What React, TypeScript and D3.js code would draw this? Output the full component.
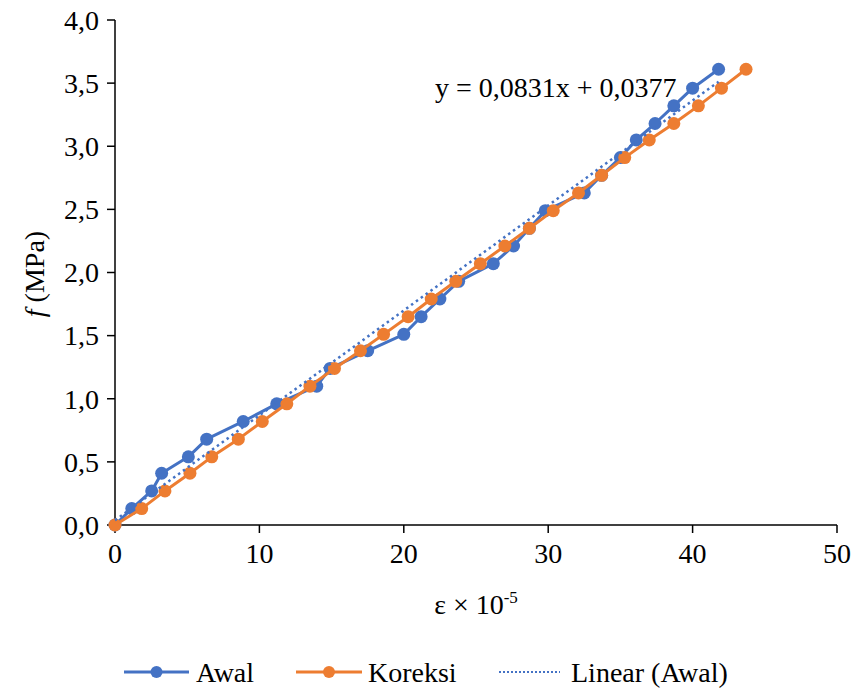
import React from 'react';
import * as d3 from 'd3';

// data (strain x 1e-5, stress MPa)
const awalX = [0, 1.16, 2.54, 3.23, 5.08, 6.35, 8.88, 11.2, 13.97, 14.9, 17.5, 20.0, 21.2, 22.5, 23.8, 26.2, 27.6, 28.7, 29.8, 32.5, 33.7, 35.0, 36.1, 37.4, 38.7, 40.0, 41.8];
const awalY = [0, 0.13, 0.27, 0.41, 0.54, 0.68, 0.82, 0.96, 1.1, 1.24, 1.38, 1.51, 1.65, 1.79, 1.93, 2.07, 2.21, 2.35, 2.49, 2.63, 2.77, 2.91, 3.05, 3.18, 3.32, 3.46, 3.61];
const koreksiX = [0, 1.85, 3.46, 5.19, 6.7, 8.54, 10.2, 11.9, 13.5, 15.2, 17.0, 18.6, 20.3, 21.9, 23.6, 25.3, 27.0, 28.7, 30.35, 32.1, 33.7, 35.3, 37.0, 38.7, 40.4, 42.0, 43.7];
const koreksiY = awalY;

const trendSlope = 0.0831;
const trendIntercept = 0.0377;
const trendRange = [0, 41.8];

const xTicks = [0, 10, 20, 30, 40, 50];
const yTicks = [0, 0.5, 1, 1.5, 2, 2.5, 3, 3.5, 4];

const BLUE = '#4472C4';
const ORANGE = '#ED7D31';
const FONT = "'Times New Roman', 'Liberation Serif', Tinos, serif";

const W = 856;
const H = 693;

const App = () => {
    const x = d3.scaleLinear().domain([0, 50]).range([115, 837]);
    const y = d3.scaleLinear().domain([0, 4]).range([525, 20]);

    const line = d3.line<[number, number]>()
        .x(d => x(d[0]))
        .y(d => y(d[1]));

    const awal: [number, number][] = awalX.map((v, i) => [v, awalY[i]]);
    const koreksi: [number, number][] = koreksiX.map((v, i) => [v, koreksiY[i]]);
    const trend: [number, number][] = trendRange.map(v => [v, trendSlope * v + trendIntercept]);

    const fmt = (v: number) => v.toFixed(1).replace('.', ',');

    const legend = [
        { label: 'Awal', color: BLUE, x0: 124, x1: 189, tx: 196, marker: true, dotted: false },
        { label: 'Koreksi', color: ORANGE, x0: 296, x1: 362, tx: 368, marker: true, dotted: false },
        { label: 'Linear (Awal)', color: BLUE, x0: 499, x1: 560, tx: 571, marker: false, dotted: true },
    ];

    const fs = 28;

    return (
        <div style={{ position: 'absolute', left: 0, top: 0 }}>
            <svg width={W} height={H} style={{ display: 'block', background: '#fff', fontFamily: FONT }}>
                {/* y ticks and labels */}
                {yTicks.map(t => (
                    <g key={'y' + t}>
                        <line x1={107} x2={115} y1={y(t)} y2={y(t)} stroke="#000" strokeWidth={1.5} />
                        <text x={99} y={y(t)} dy="0.35em" textAnchor="end" fontSize={fs}>{fmt(t)}</text>
                    </g>
                ))}
                {/* x ticks and labels */}
                {xTicks.map(t => (
                    <g key={'x' + t}>
                        <line x1={x(t)} x2={x(t)} y1={525} y2={533} stroke="#000" strokeWidth={1.5} />
                        <text x={x(t)} y={563} textAnchor="middle" fontSize={fs}>{t}</text>
                    </g>
                ))}
                <line x1={115} x2={837} y1={525} y2={525} stroke="#000" strokeWidth={1.5} />
                <line x1={115} x2={115} y1={20} y2={525} stroke="#000" strokeWidth={1.5} />

                {/* series */}
                <path d={line(awal) || ''} fill="none" stroke={BLUE} strokeWidth={3} strokeLinejoin="round" />
                {awal.map((d, i) => (
                    <circle key={'a' + i} cx={x(d[0])} cy={y(d[1])} r={6.5} fill={BLUE} />
                ))}
                <path d={line(koreksi) || ''} fill="none" stroke={ORANGE} strokeWidth={3} strokeLinejoin="round" />
                {koreksi.map((d, i) => (
                    <circle key={'k' + i} cx={x(d[0])} cy={y(d[1])} r={6.5} fill={ORANGE} />
                ))}
                <path d={line(trend) || ''} fill="none" stroke={BLUE} strokeWidth={2.5} strokeDasharray="2.5,3.5" />

                <text x={435} y={97} fontSize={fs}>y = 0,0831x + 0,0377</text>

                {/* axis titles */}
                <text x={476} y={614} textAnchor="middle" fontSize={fs}>
                    ε × 10<tspan dy={-11} fontSize={17}>-5</tspan>
                </text>
                <text transform="translate(44,274) rotate(-90)" textAnchor="middle" fontSize={fs}>
                    <tspan fontStyle="italic">f</tspan> (MPa)
                </text>

                {/* legend */}
                {legend.map(l => (
                    <g key={l.label}>
                        <line x1={l.x0} x2={l.x1} y1={672} y2={672} stroke={l.color}
                            strokeWidth={l.dotted ? 2 : 3} strokeDasharray={l.dotted ? '2,2' : undefined} />
                        {l.marker && <circle cx={(l.x0 + l.x1) / 2} cy={672} r={6} fill={l.color} />}
                        <text x={l.tx} y={672} dy="0.35em" fontSize={fs}>{l.label}</text>
                    </g>
                ))}
            </svg>
        </div>
    );
};

export default App;
